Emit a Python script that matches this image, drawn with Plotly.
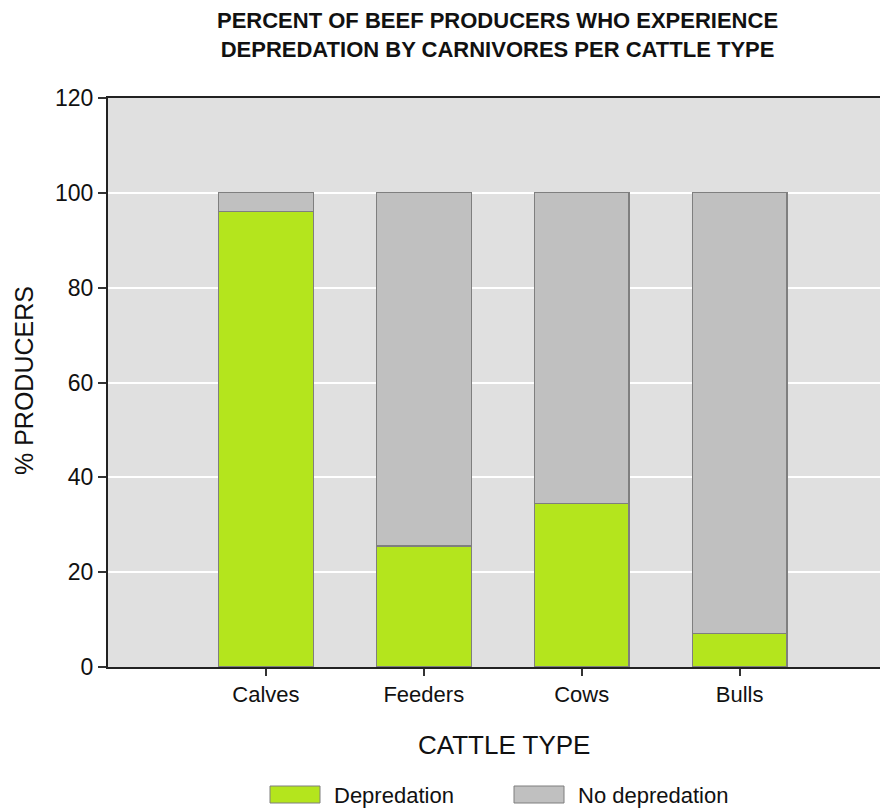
import plotly.graph_objects as go

categories = ["Calves", "Feeders", "Cows", "Bulls"]
depredation = [96, 25.5, 34.5, 7]
no_depredation = [100 - v for v in depredation]
series_names = ["Depredation", "No depredation"]
y_ticks = [0, 20, 40, 60, 80, 100, 120]

GREEN = "#b4e51d"
GRAY = "#c0c0c0"
EDGE = "#7f7f7f"
FONT = "Liberation Sans, Arial, sans-serif"

# page has an 8px body margin; work in reference page pixels and subtract it
OFF = 8
W, H = 888 - OFF, 808 - OFF
PLOT_L, PLOT_R, PLOT_T, PLOT_B = 108, 888, 98, 667
L = PLOT_L - OFF
R = 0
T = PLOT_T - OFF
B = H - (PLOT_B - OFF)
pw = PLOT_R - PLOT_L
ph = PLOT_B - PLOT_T

def px_x(px):
    return (px - PLOT_L) / pw

def px_y(py):
    return (PLOT_B - py) / ph

fig = go.Figure()
fig.add_trace(go.Bar(x=categories, y=depredation, name=series_names[0],
                     marker=dict(color=GREEN, line=dict(color=EDGE, width=1.3)),
                     width=0.6, showlegend=False))
fig.add_trace(go.Bar(x=categories, y=no_depredation, name=series_names[1],
                     marker=dict(color=GRAY, line=dict(color=EDGE, width=1.3)),
                     width=0.6, showlegend=False))

shapes = []
annotations = []
for (x0, x1, col, name, tx) in [(270, 320, GREEN, series_names[0], 332),
                               (514, 564, GRAY, series_names[1], 576)]:
    shapes.append(dict(type="rect", xref="paper", yref="paper",
                       x0=px_x(x0), x1=px_x(x1), y0=px_y(803), y1=px_y(786),
                       fillcolor=col, line=dict(color=EDGE, width=1)))
    annotations.append(dict(text=name, xref="paper", yref="paper",
                            x=px_x(tx), y=px_y(795), xanchor="left", yanchor="middle",
                            showarrow=False, font=dict(size=22, color="#111", family=FONT)))

annotations.append(dict(text="CATTLE TYPE", xref="paper", yref="paper",
                        x=px_x(504), y=px_y(745), xanchor="center", yanchor="middle",
                        showarrow=False, font=dict(size=26, color="#111", family=FONT)))
annotations.append(dict(text="% PRODUCERS", xref="paper", yref="paper",
                        x=px_x(24), y=px_y(381), xanchor="center", yanchor="middle",
                        textangle=-90, showarrow=False, borderpad=0,
                        font=dict(size=25, color="#111", family=FONT)))
annotations.append(dict(text="<b>PERCENT OF BEEF PRODUCERS WHO EXPERIENCE<br>DEPREDATION BY CARNIVORES PER CATTLE TYPE</b>",
                        xref="paper", yref="paper",
                        x=px_x(497), y=px_y(35), xanchor="center", yanchor="middle",
                        showarrow=False,
                        font=dict(size=22, color="#111", family=FONT)))

fig.update_layout(
    width=W, height=H,
    margin=dict(l=L, r=R, t=T, b=B, autoexpand=False),
    barmode="stack",
    plot_bgcolor="#e0e0e0",
    paper_bgcolor="white",
    font=dict(family=FONT, color="#111"),
    shapes=shapes,
    annotations=annotations,
    xaxis=dict(range=[-1.0, 3.94], showgrid=False, ticks="outside", ticklen=7,
               tickcolor="#333", tickwidth=2,
               showline=True, linecolor="#222", linewidth=2, mirror=True,
               tickfont=dict(size=22, color="#111"), zeroline=False),
    yaxis=dict(range=[0, 120], tickvals=y_ticks, showgrid=True, gridcolor="white",
               gridwidth=1.5, ticks="outside", ticklen=8, tickcolor="#333", tickwidth=2,
               showline=True, linecolor="#222", linewidth=2, zeroline=False,
               tickfont=dict(size=23, color="#111")),
)

fig.write_html("out.html")
